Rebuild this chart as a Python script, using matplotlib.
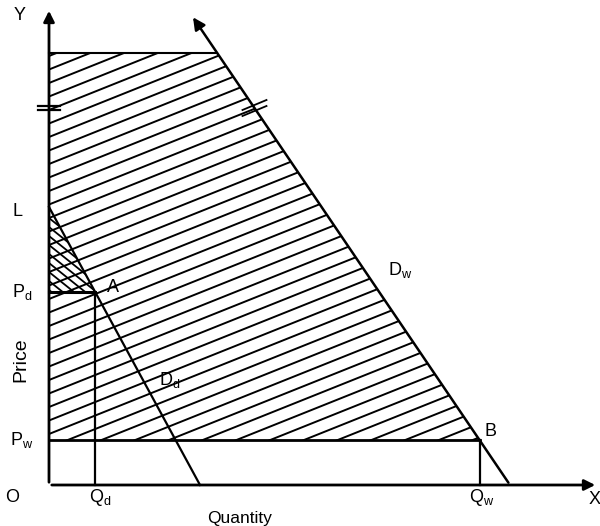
import numpy as np
import matplotlib.pyplot as plt
from matplotlib.patches import Polygon

plt.rcParams['font.family'] = ['Liberation Sans', 'DejaVu Sans']
plt.rcParams['mathtext.default'] = 'regular'

# key levels of the diagram (chart units)
P_top = 43.2      # upper cut of the world demand area
P_L = 27.8        # domestic demand choke price L
P_d = 19.3        # domestic price
P_w = 4.5         # world price
Q_d = 4.6         # domestic quantity at A
Q_w = 43.05       # world quantity at B
Dd_xint = 15.1    # domestic demand hits quantity axis
Dw_xint = 46.1    # world demand hits quantity axis
Dw_top_y = 47.0   # arrow tip of world demand
y_axis_top = 47.7
x_axis_end = 54.9
break_y = 37.7

# world demand: x = Dw_xint - k*p
k_w = (Dw_xint - Q_w) / P_w
def world_x(p):
    return Dw_xint - k_w * p

fig = plt.figure(figsize=(6, 5.26), dpi=100)
ax = fig.add_axes([0, 0, 1, 1])
ax.set_xlim(-4.9, 55.1)
ax.set_ylim(-4.1, 48.5)
ax.axis('off')

# hatched region
x_top = world_x(P_top)
big = Polygon([(0, P_w), (0, P_top), (x_top, P_top), (Q_w, P_w)],
              closed=True, fill=False, edgecolor='none')
ax.add_patch(big)
xs = np.array([-5, 60])
for c in np.arange(-30, 50, 1.35):
    l, = ax.plot(xs, 0.4 * xs + c, color='black', lw=1.4)
    l.set_clip_path(big)

tri = Polygon([(0, P_L), (0, P_d), (Q_d, P_d)], closed=True,
              fill=False, edgecolor='none')
ax.add_patch(tri)
for c in np.arange(15, 35, 0.9):
    l, = ax.plot(xs, -0.8 * xs + c, color='black', lw=1.3)
    l.set_clip_path(tri)

# axes with arrows
ax.annotate('', xy=(0, y_axis_top), xytext=(0, 0),
            arrowprops=dict(arrowstyle='-|>', lw=2, color='black', mutation_scale=16))
ax.annotate('', xy=(x_axis_end, 0), xytext=(0, 0),
            arrowprops=dict(arrowstyle='-|>', lw=2, color='black', mutation_scale=16))

# top line
ax.plot([0, x_top], [P_top, P_top], color='black', lw=1.5)

# world demand with arrow
ax.annotate('', xy=(world_x(Dw_top_y), Dw_top_y), xytext=(Dw_xint, 0),
            arrowprops=dict(arrowstyle='-|>', lw=1.8, color='black', mutation_scale=18))

# domestic demand
ax.plot([0, Dd_xint], [P_L, 0], color='black', lw=1.6)

# price and quantity lines
ax.plot([0, Q_d], [P_d, P_d], color='black', lw=2.2)
ax.plot([Q_d, Q_d], [P_d, 0], color='black', lw=1.6)
ax.plot([0, Q_w], [P_w, P_w], color='black', lw=2.0)
ax.plot([Q_w, Q_w], [P_w, 0], color='black', lw=1.6)

# break marks
for dy in (-0.2, 0.2):
    ax.plot([-1.1, 1.1], [break_y + dy, break_y + dy], color='black', lw=1.6)
bx = world_x(break_y)
for dy in (-0.3, 0.3):
    ax.plot([bx - 1.2, bx + 1.2], [break_y + dy - 0.5, break_y + dy + 0.5],
            color='black', lw=1.3)

fs = 13
ax.text(-2.9, 47.0, 'Y', fontsize=fs, ha='center', va='center')
ax.text(54.6, -1.5, 'X', fontsize=fs, ha='center', va='center')
ax.text(-3.7, -1.2, 'O', fontsize=fs, ha='center', va='center')
ax.text(5.1, -1.2, 'Q$_d$', fontsize=fs, ha='center', va='center')
ax.text(43.3, -1.2, 'Q$_w$', fontsize=fs, ha='center', va='center')
ax.text(19.1, -3.3, 'Quantity', fontsize=12.5, ha='center', va='center')
ax.text(-2.8, 12.5, 'Price', fontsize=14, ha='center', va='center', rotation=90)
ax.text(-2.7, P_w, 'P$_w$', fontsize=fs, ha='center', va='center')
ax.text(-2.7, P_d, 'P$_d$', fontsize=fs, ha='center', va='center')
ax.text(-3.2, 27.3, 'L', fontsize=fs, ha='center', va='center')
ax.text(6.4, 19.8, 'A', fontsize=fs, ha='center', va='center')
ax.text(12.1, 10.5, 'D$_d$', fontsize=fs, ha='center', va='center')
ax.text(35.1, 21.5, 'D$_w$', fontsize=fs, ha='center', va='center')
ax.text(44.1, 5.3, 'B', fontsize=fs, ha='center', va='center')

fig.savefig('out.png', dpi=100)
